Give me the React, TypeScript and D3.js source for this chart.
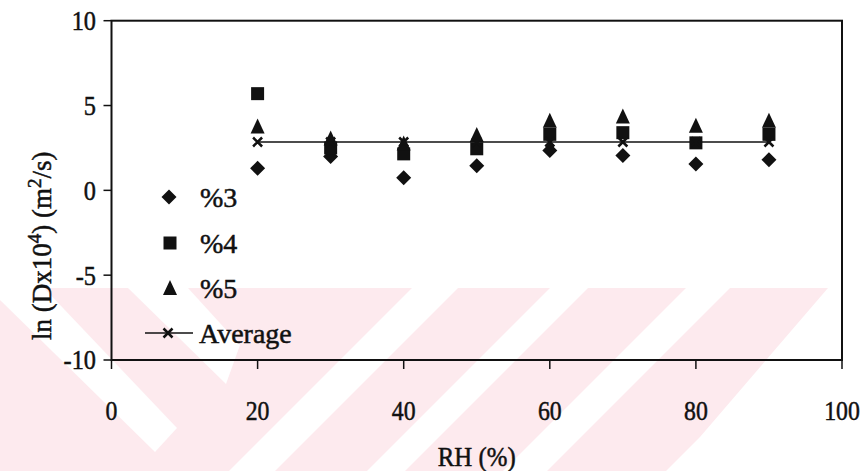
import React from "react";
import * as d3 from "d3";

const rh = [20, 30, 40, 50, 60, 70, 80, 90];
const s3 = [1.3, 2.0, 0.75, 1.45, 2.35, 2.05, 1.55, 1.8];
const s4 = [5.7, 2.5, 2.15, 2.45, 3.3, 3.4, 2.8, 3.3];
const s5 = [3.7, 3.0, 2.7, 3.2, 4.05, 4.3, 3.75, 4.05];
const avgValue = 2.85;
const xTicks = [0, 20, 40, 60, 80, 100];
const yTicks = [-10, -5, 0, 5, 10];
const legendLabels = ["%3", "%4", "%5", "Average"];

const W = 865;
const H = 471;
const FONT = "'Liberation Serif', 'Times New Roman', serif";

const diamond = (s: number) => `M0,${-s}L${s},0L0,${s}L${-s},0Z`;
const square = (s: number) => `M${-s},${-s}H${s}V${s}H${-s}Z`;
const triangle = (w: number, h: number) => `M0,${-h * 0.6}L${w},${h * 0.4}L${-w},${h * 0.4}Z`;
const cross = (s: number) => `M${-s},${-s}L${s},${s}M${s},${-s}L${-s},${s}`;

export default function App() {
  const x = d3.scaleLinear().domain([0, 100]).range([111.5, 842]);
  const y = d3.scaleLinear().domain([-10, 10]).range([360, 20.7]);
  const ink = "#111";

  const pink = "#fdeaee";
  const slashStarts = [[412, 458], [550, 588], [686, 730]];
  const top = 288;
  const bot = 471;
  const dy = bot - top;

  const avgLine = d3.line<number>().x((d) => x(d)).y(() => y(avgValue));
  const textStyle = { stroke: ink, strokeWidth: 0.5 } as const;

  return (
    <svg width={W} height={H} style={{ display: "block", position: "absolute", left: 0, top: 0 }}>
      <rect x={0} y={0} width={W} height={H} fill="#fff" />
      {/* watermark */}
      <g>
        <polygon points={`0,${top} 835,${top} 835,${bot - 34} 700,${bot - 34} 666,${bot} 0,${bot}`} fill={pink} />
        <polygon points={`0,${top} 44,${top} 177,428 155,452 0,300`} fill="#fff" />
        <polygon points={`128,${top} 188,${top} 240,345 226,384`} fill="#fff" />
        {slashStarts.map(([a, b], i) => (
          <polygon key={i} points={`${a},${top} ${b},${top} ${b - dy},${bot} ${a - dy},${bot}`} fill="#fff" />
        ))}
        <polygon points={`828,${top} 865,${top} 865,${bot} 690,${bot} 700,${bot - 34}`} fill="#fff" />
      </g>

      {/* frame */}
      <rect x={x(0)} y={y(10)} width={x(100) - x(0)} height={y(-10) - y(10)} fill="none" stroke={ink} strokeWidth={2} />

      {/* y ticks */}
      {yTicks.map((t) => (
        <g key={t}>
          <line x1={x(0) - 8} x2={x(0)} y1={y(t)} y2={y(t)} stroke={ink} strokeWidth={1.5} />
          <text transform={`translate(96,${y(t)}) scale(0.9,1)`} dy="0.35em" textAnchor="end" fontFamily={FONT} fontSize={27} fill={ink} style={textStyle}>
            {t}
          </text>
        </g>
      ))}
      {/* x ticks */}
      {xTicks.map((t) => (
        <g key={t}>
          <line x1={x(t)} x2={x(t)} y1={y(-10)} y2={y(-10) + 9} stroke={ink} strokeWidth={1.5} />
          <text transform={`translate(${x(t)},420) scale(0.88,1)`} textAnchor="middle" fontFamily={FONT} fontSize={27} fill={ink} style={textStyle}>
            {t}
          </text>
        </g>
      ))}

      {/* axis titles */}
      <text transform={`translate(${(x(0) + x(100)) / 2},466) scale(0.92,1)`} textAnchor="middle" fontFamily={FONT} fontSize={27} fill={ink} style={textStyle}>
        RH (%)
      </text>
      <text transform="translate(51,340) rotate(-90)" textAnchor="start" fontFamily={FONT} fontSize={27} fill={ink} style={textStyle}>
        ln (Dx10<tspan dy={-10} fontSize={19}>4</tspan>
        <tspan dy={10}>) (m</tspan>
        <tspan dy={-10} fontSize={19}>2</tspan>
        <tspan dy={10}>/s)</tspan>
      </text>

      {/* average line */}
      <path d={avgLine(rh) || ""} fill="none" stroke={ink} strokeWidth={1.5} />

      {/* series */}
      {rh.map((r, i) => (
        <path key={"d" + i} transform={`translate(${x(r)},${y(s3[i])})`} d={diamond(7.5)} fill={ink} />
      ))}
      {rh.map((r, i) => (
        <path key={"s" + i} transform={`translate(${x(r)},${y(s4[i])})`} d={square(6.5)} fill={ink} />
      ))}
      {rh.map((r, i) => (
        <path key={"t" + i} transform={`translate(${x(r)},${y(s5[i])})`} d={triangle(7, 15)} fill={ink} />
      ))}
      {rh.map((r, i) => (
        <path key={"x" + i} transform={`translate(${x(r)},${y(avgValue)})`} d={cross(4.5)} fill="none" stroke={ink} strokeWidth={2.5} />
      ))}

      {/* legend */}
      <g fontFamily={FONT} fontSize={28} fill={ink}>
        <path transform="translate(169,197)" d={diamond(7.5)} fill={ink} />
        <text x={200} y={197} dy="0.35em" style={textStyle}>{legendLabels[0]}</text>
        <path transform="translate(170,243)" d={square(6.5)} fill={ink} />
        <text x={200} y={243} dy="0.35em" style={textStyle}>{legendLabels[1]}</text>
        <path transform="translate(170,289)" d={triangle(7, 15)} fill={ink} />
        <text x={200} y={288} dy="0.35em" style={textStyle}>{legendLabels[2]}</text>
        <line x1={145} x2={193} y1={333} y2={333} stroke={ink} strokeWidth={1.5} />
        <path transform="translate(168,333)" d={cross(4.5)} fill="none" stroke={ink} strokeWidth={2.5} />
        <text x={199} y={333} dy="0.35em" style={textStyle}>{legendLabels[3]}</text>
      </g>
    </svg>
  );
}
